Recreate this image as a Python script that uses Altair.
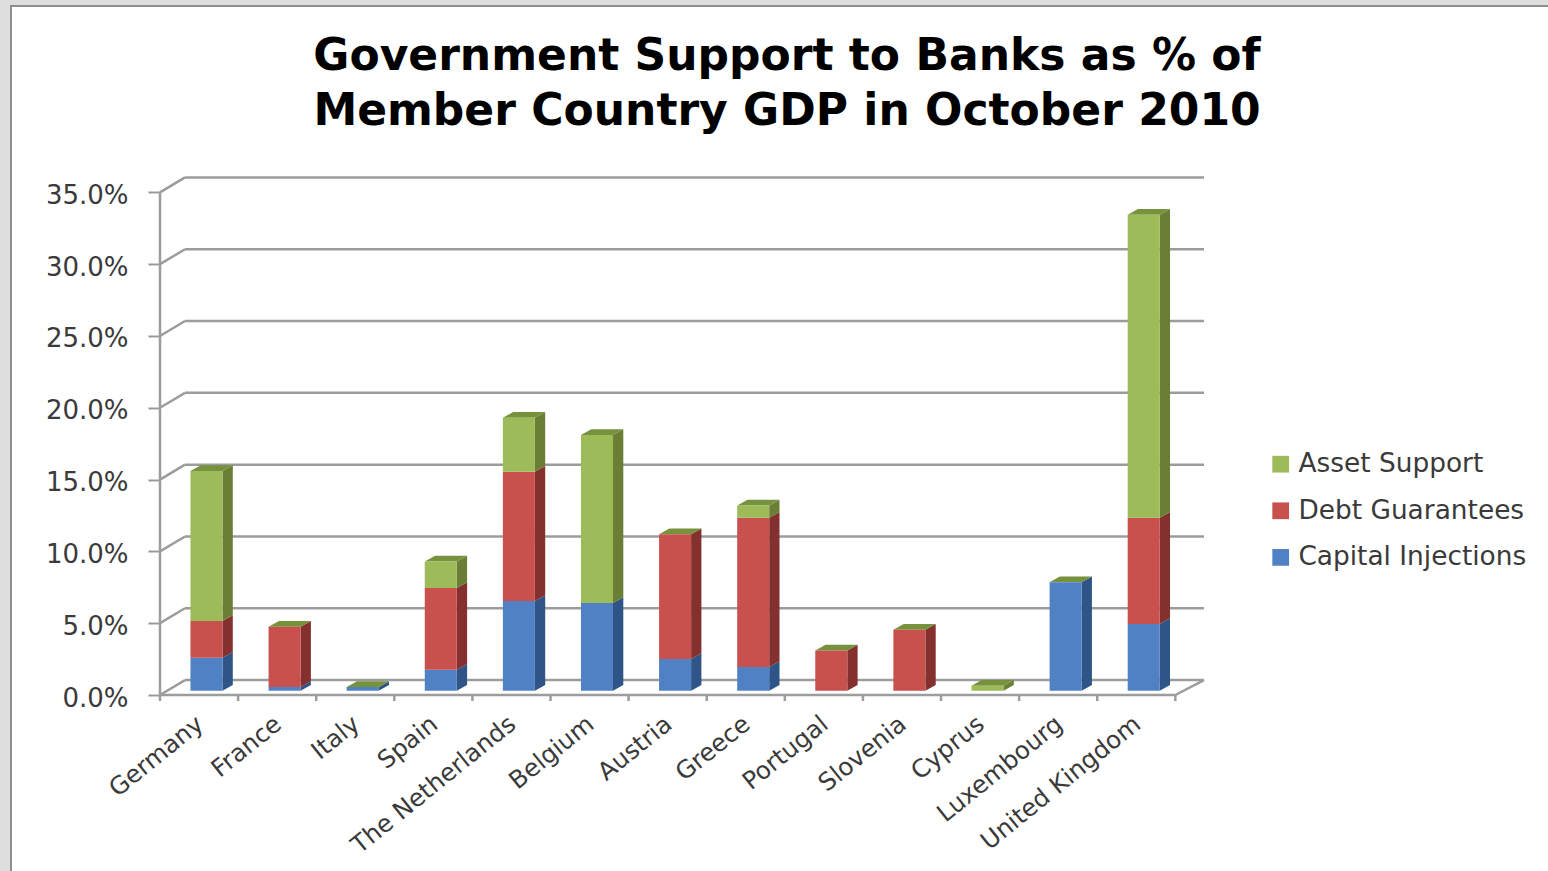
import json
import altair as alt
import pandas as pd

# Percent of GDP per country, bottom to top of each stack
countries = ["Germany", "France", "Italy", "Spain", "The Netherlands", "Belgium", "Austria",
             "Greece", "Portugal", "Slovenia", "Cyprus", "Luxembourg", "United Kingdom"]
capital = [2.3, 0.25, 0.25, 1.45, 6.25, 6.1, 2.2, 1.65, 0.0, 0.0, 0.0, 7.55, 4.65]
debt = [2.55, 4.2, 0.0, 5.7, 9.0, 0.0, 8.7, 10.4, 2.8, 4.25, 0.0, 0.0, 7.4]
asset = [10.45, 0.0, 0.0, 1.85, 3.75, 11.7, 0.0, 0.85, 0.0, 0.0, 0.35, 0.0, 21.1]

series_names = ["Asset Support", "Debt Guarantees", "Capital Injections"]
front_colors = ["#9DBB59", "#C8504D", "#4F81C4"]
side_colors = {"Asset Support": "#6A7E36", "Debt Guarantees": "#84302E", "Capital Injections": "#2F5488"}
top_color = "#76923C"
line_color = "#9C9C9C"
text_color = "#3A3A3A"
FONT = "DejaVu Sans"

# Box geometry in axis units
N = len(countries)
WALL_DX, WALL_DY = 0.32, 1.04
X_MAX = N + 0.367
Y_MAX = 36.07
BAR_START, BAR_W = 0.39, 0.41
BAR_DX, BAR_DY = 0.132, 0.40
BASE = 0.30
ticks_y = [0, 5, 10, 15, 20, 25, 30, 35]

fronts, sides, tops = [], [], []
for i, name in enumerate(countries):
    left = i + BAR_START
    right = left + BAR_W
    level = BASE
    for series, values in (("Capital Injections", capital), ("Debt Guarantees", debt), ("Asset Support", asset)):
        v = values[i]
        if v <= 0:
            continue
        fronts.append({"x": left, "x2": right, "y": level, "y2": level + v, "series": series})
        key = f"{name}-{series}"
        sides.append({"k": key, "x": right, "lo": level, "hi": level + v, "fill": side_colors[series]})
        sides.append({"k": key, "x": right + BAR_DX, "lo": level + BAR_DY, "hi": level + v + BAR_DY,
                      "fill": side_colors[series]})
        level += v
    tops += [
        {"k": name, "x": left, "lo": level, "hi": level},
        {"k": name, "x": left + BAR_DX, "lo": level, "hi": level + BAR_DY},
        {"k": name, "x": right, "lo": level, "hi": level + BAR_DY},
        {"k": name, "x": right + BAR_DX, "lo": level + BAR_DY, "hi": level + BAR_DY},
    ]

# Box outline: back-wall grid, slanted side-wall lines, floor edges
segments = []
for v in ticks_y:
    segments.append({"x": WALL_DX, "x2": X_MAX, "y": v + WALL_DY, "y2": v + WALL_DY})
    segments.append({"x": 0, "x2": WALL_DX, "y": v, "y2": v + WALL_DY})
segments.append({"x": N, "x2": X_MAX, "y": 0, "y2": WALL_DY})
segments.append({"x": 0, "x2": N, "y": 0, "y2": 0})
segments.append({"x": 0, "x2": 0, "y": 0, "y2": 35})

x_scale = alt.Scale(domain=[0, X_MAX], nice=False, zero=False)
y_scale = alt.Scale(domain=[0, Y_MAX], nice=False)

label_expr = json.dumps(countries) + "[floor(datum.value)]"
x_axis = alt.Axis(values=[i + 0.5 for i in range(N)], labelExpr=label_expr, title=None, grid=False,
                  domain=False, ticks=False, labelAngle=-39, labelAlign="right", labelBaseline="middle",
                  labelFont=FONT, labelFontSize=24.5, labelColor=text_color, labelPadding=26, labelOffset=1,
                  labelLimit=400, labelOverlap=False, labelBound=False, labelFlush=False)
y_axis = alt.Axis(values=ticks_y, labelExpr="format(datum.value, '.1f') + '%'", title=None, grid=False,
                  domain=False, tickSize=12, tickWidth=2, tickColor=line_color, labelPadding=20, labelOffset=3,
                  labelFont=FONT, labelFontSize=26, labelColor=text_color)

X = alt.X("x:Q", scale=x_scale, axis=x_axis)
Y = alt.Y("y:Q", scale=y_scale, axis=y_axis)

grid = alt.Chart(pd.DataFrame(segments)).mark_rule(color=line_color, strokeWidth=2.5).encode(
    x=X, x2="x2:Q", y=Y, y2="y2:Q")

tick_marks = alt.Chart(pd.DataFrame({"x": list(range(N + 1))})).mark_rule(color=line_color, strokeWidth=2.5).encode(
    x=alt.X("x:Q", scale=x_scale), y=alt.value(518), y2=alt.value(524))

front = alt.Chart(pd.DataFrame(fronts)).mark_rect().encode(
    x=alt.X("x:Q", scale=x_scale), x2="x2:Q",
    y=alt.Y("y:Q", scale=y_scale), y2="y2:Q",
    color=alt.Color("series:N", scale=alt.Scale(domain=series_names, range=front_colors), title=None,
                    legend=alt.Legend(orient="none", legendX=1107.5, legendY=274, symbolType="square", symbolSize=280,
                                      symbolStrokeWidth=0, labelFont=FONT, labelFontSize=26.4,
                                      labelColor=text_color, labelLimit=400, rowPadding=19.6, padding=0, labelOffset=4.5)),
)

side = alt.Chart(pd.DataFrame(sides)).mark_area(opacity=1).encode(
    x=alt.X("x:Q", scale=x_scale),
    y=alt.Y("lo:Q", scale=y_scale), y2="hi:Q",
    detail="k:N",
    fill=alt.Fill("fill:N", scale=None),
)

top = alt.Chart(pd.DataFrame(tops)).mark_area(color=top_color, opacity=1).encode(
    x=alt.X("x:Q", scale=x_scale),
    y=alt.Y("lo:Q", scale=y_scale), y2="hi:Q",
    detail="k:N",
)

# Surrounding slide frame
one_row = pd.DataFrame({"k": [0]})
band_left = alt.Chart(one_row).mark_rect(color="#DEDEDE").encode(
    x=alt.value(-160), x2=alt.value(-150), y=alt.value(-177), y2=alt.value(694))
band_top = alt.Chart(one_row).mark_rect(color="#DEDEDE").encode(
    x=alt.value(-160), x2=alt.value(1388), y=alt.value(-177), y2=alt.value(-172))
edge_left = alt.Chart(one_row).mark_rect(color="#8E8E8E").encode(
    x=alt.value(-150), x2=alt.value(-148), y=alt.value(-172), y2=alt.value(694))
edge_top = alt.Chart(one_row).mark_rect(color="#8E8E8E").encode(
    x=alt.value(-150), x2=alt.value(1388), y=alt.value(-172), y2=alt.value(-170))

chart = alt.layer(band_left, band_top, edge_left, edge_top, grid, tick_marks, side, top, front).properties(
    width=1044, height=518,
    padding={"left": 160, "top": 177, "right": 344, "bottom": 176},
    autosize=alt.AutoSizeParams(type="none"),
    background="white",
    title=alt.TitleParams(
        text=["Government Support to Banks as % of", "Member Country GDP in October 2010"],
        font=FONT, fontSize=44, fontWeight="bold", color="#000000", lineHeight=55,
        anchor="middle", dx=105, dy=134, offset=0),
).configure_view(stroke=None)

chart.save("out.html", embed_options={"renderer": "svg", "actions": False})
